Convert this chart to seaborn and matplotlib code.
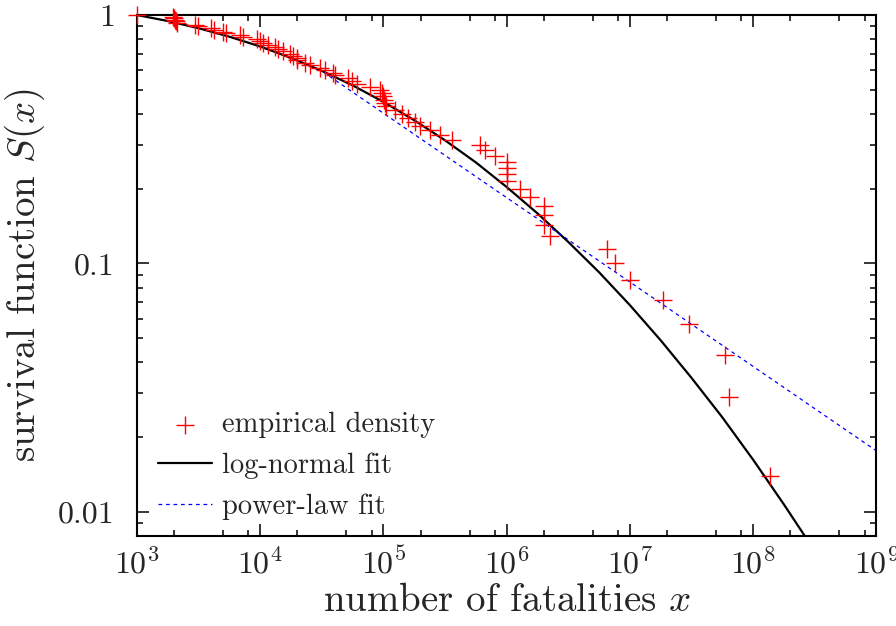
import numpy as np
import pandas as pd
import matplotlib
matplotlib.use("Agg")
import matplotlib.pyplot as plt
import matplotlib.ticker as mticker
import seaborn as sns

# empirical survival function
fatalities = [
    1000, 1960, 2000, 2030, 2070, 2110, 2960, 3130, 3990, 4220,
    4990, 5280, 6860, 7250, 9420, 9960, 10540, 11570, 13190, 13950,
    15320, 17460, 18460, 19890, 19890, 23100, 25370, 30580, 33570, 38990,
    40470, 51600, 55620, 61050, 77850, 93850, 97410, 99260, 101100, 103000,
    105000, 124200, 141600, 158300, 180500, 198200, 238900, 288100, 360600, 608300,
    667700, 805000, 1007000, 1007000, 1007000, 1007000, 1285000, 1549000, 2012000, 2012000,
    2012000, 2250000, 6530000, 7590000, 10040000, 18600000, 30240000, 59270000, 63880000, 137400000,
]
survival = [
    1.000, 0.986, 0.971, 0.957, 0.943, 0.929, 0.914, 0.900, 0.886, 0.871,
    0.857, 0.843, 0.829, 0.814, 0.800, 0.786, 0.771, 0.757, 0.743, 0.729,
    0.714, 0.700, 0.686, 0.671, 0.657, 0.643, 0.629, 0.614, 0.600, 0.586,
    0.571, 0.557, 0.543, 0.529, 0.514, 0.500, 0.486, 0.471, 0.457, 0.443,
    0.429, 0.414, 0.400, 0.386, 0.371, 0.357, 0.343, 0.329, 0.314, 0.300,
    0.286, 0.271, 0.257, 0.243, 0.229, 0.214, 0.200, 0.186, 0.171, 0.157,
    0.143, 0.129, 0.114, 0.100, 0.086, 0.071, 0.057, 0.043, 0.029, 0.014,
]

# log-normal fit
lognorm_x = [1000, 1778, 3162, 5623, 10000, 17780, 31620, 56230, 100000, 177800,
             316200, 562300, 1000000, 1778000, 3162000, 5623000, 10000000,
             17780000, 31620000, 56230000, 100000000, 177800000, 316200000]
lognorm_y = [1.0, 0.946, 0.885, 0.818, 0.747, 0.672, 0.596, 0.521, 0.447, 0.377,
             0.313, 0.255, 0.203, 0.159, 0.122, 0.0921, 0.0679,
             0.0490, 0.0346, 0.0240, 0.0162, 0.0107, 0.00695]

# power-law fit (straight line in log-log)
powerlaw_x = [32400, 1e9]
powerlaw_y = [0.59, 0.0176]

sns.set_theme(style="ticks")
plt.rcParams["font.family"] = "serif"
plt.rcParams["font.serif"] = ["cmr10", "DejaVu Serif"]
plt.rcParams["mathtext.fontset"] = "cm"
plt.rcParams["axes.formatter.use_mathtext"] = True
plt.rcParams["axes.unicode_minus"] = False

fig = plt.figure(figsize=(8.96, 6.26), dpi=100)
ax = fig.add_axes([0.1529, 0.1438, 0.8253, 0.8322])
ax.set_xscale("log")
ax.set_yscale("log")

pts = pd.DataFrame({"x": fatalities, "y": survival})
sns.scatterplot(data=pts, x="x", y="y", ax=ax, marker="+", s=150, color="red",
                linewidth=1.0, label="empirical density", clip_on=False, zorder=3)
sns.lineplot(x=lognorm_x, y=lognorm_y, ax=ax, color="black", linewidth=1.6,
             sort=False, estimator=None, label="log-normal fit", zorder=2)
sns.lineplot(x=powerlaw_x, y=powerlaw_y, ax=ax, color="blue", linewidth=0.9,
             linestyle=(0, (3, 3)), sort=False, estimator=None, label="power-law fit", zorder=2)

ax.set_xlim(1e3, 1e9)
ax.set_ylim(0.0080, 1.0)

ax.xaxis.set_major_locator(mticker.FixedLocator([1e3, 1e4, 1e5, 1e6, 1e7, 1e8, 1e9]))
ax.xaxis.set_major_formatter(mticker.LogFormatterMathtext())
ax.xaxis.set_minor_locator(mticker.LogLocator(base=10, subs=(2.0, 5.0, 8.0), numticks=20))
ax.xaxis.set_minor_formatter(mticker.NullFormatter())
ax.yaxis.set_major_locator(mticker.FixedLocator([0.01, 0.1, 1]))
ax.yaxis.set_major_formatter(mticker.FixedFormatter(["0.01", "0.1", "1"]))
ax.yaxis.set_minor_locator(mticker.LogLocator(base=10, subs=np.arange(2, 10), numticks=20))
ax.yaxis.set_minor_formatter(mticker.NullFormatter())

ax.tick_params(which="both", direction="in", top=True, right=True, width=1.1, color="black")
ax.tick_params(which="major", length=8.6, labelsize=23, pad=8)
ax.tick_params(axis="y", which="major", pad=16)
ax.tick_params(which="minor", length=4.5)
for sp in ax.spines.values():
    sp.set_linewidth(1.5)
    sp.set_color("black")

ax.set_xlabel("number of fatalities $x$", fontsize=28, labelpad=3)
ax.set_ylabel("survival function $S(x)$", fontsize=28, labelpad=8)

ax.legend(loc="lower left", frameon=False, fontsize=20.5, handlelength=1.9,
          labelspacing=0.5, handletextpad=0.35, borderaxespad=0.35,
          bbox_to_anchor=(0.0, -0.01))

fig.savefig("out.png", dpi=100)
